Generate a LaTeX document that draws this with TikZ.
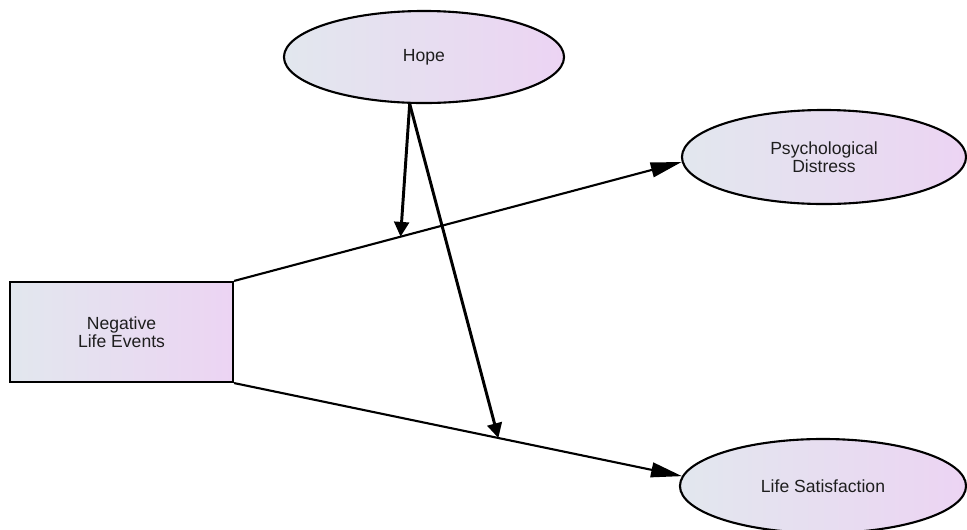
\documentclass[tikz,border=0pt]{standalone}
\usepackage{fontspec}
\setmainfont{Liberation Sans}
\usetikzlibrary{shapes.geometric,arrows.meta}
\definecolor{shadeleft}{RGB}{226,231,238}
\definecolor{shaderight}{RGB}{236,212,243}
\definecolor{labeltext}{RGB}{30,30,30}

\begin{document}
\begin{tikzpicture}[x=0.025cm,y=-0.025cm,
    latent/.style={ellipse,draw,line width=1.5pt,left color=shadeleft,right color=shaderight,
        minimum width=7cm,minimum height=2.3cm,inner sep=0pt,align=center,text=labeltext,
        font=\fontsize{12.5}{13}\selectfont},
    observed/.style={rectangle,draw,line width=1.5pt,left color=shadeleft,right color=shaderight,
        minimum width=5.575cm,minimum height=2.5cm,inner sep=0pt,align=center,text=labeltext,
        font=\fontsize{12.5}{13}\selectfont},
    effect/.style={-{Triangle[length=22pt,width=10.5pt]},line width=1.5pt},
    modline/.style={-{Triangle[length=10.5pt,width=10.5pt]},line width=2.1pt}]
                \useasboundingbox (0,0) rectangle (967,529);

                \node[latent] (hope) at (424,57) {Hope};
                \node[latent,minimum width=7.1cm,minimum height=2.35cm] (distress) at (824,157) {Psychological\\Distress};
                \node[latent,minimum width=7.15cm,minimum height=2.35cm] (satisfaction) at (823,486) {Life Satisfaction};
                \node[observed] (events) at (121.5,332) {Negative\\Life Events};

                \draw[effect] (events.north east) -- (distress.182) coordinate[pos=0.372] (hopedistress);
                \draw[effect] (events.south east) -- (satisfaction.176) coordinate[pos=0.59] (hopesatisfaction);

                \draw[modline] (hope.253) -- (hopedistress);
                \draw[modline] (hope.253) -- (hopesatisfaction);
            \end{tikzpicture}
\end{document}
